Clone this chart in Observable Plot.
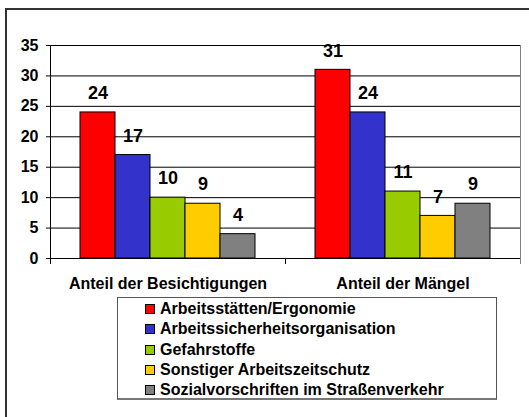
<!DOCTYPE html>
<html>
<head>
<meta charset="utf-8">
<script src="https://cdn.jsdelivr.net/npm/d3@7"></script>
<script src="https://cdn.jsdelivr.net/npm/@observablehq/plot@0.6"></script>
<style>
  html, body { margin: 0; padding: 0; background: #fff; overflow: hidden; width: 529px; height: 417px; }
  #outer { position: absolute; left: 5px; top: 8px; width: 700px; height: 600px; border-left: 2px solid #333; border-top: 2px solid #333; }
  #chart { position: absolute; left: 0; top: 0; }
  #legend { position: absolute; left: 117px; top: 297px; width: 380px; height: 103px; border: 1px solid #555; border-bottom: 2px solid #777; background: #fff;
    font-family: "Liberation Sans", Arial, sans-serif; font-weight: bold; font-size: 16px; color: #000; box-sizing: border-box; padding-top: 1px; }
  .row { display: flex; align-items: center; height: 20.3px; padding-left: 27px; white-space: nowrap; }
  .sw { width: 8px; height: 8px; border: 1px solid #000; margin-right: 5px; flex: none; }
</style>
</head>
<body>
<div id="outer"></div>
<div id="chart"></div>
<div id="legend"></div>
<script>
const categories = ["Anteil der Besichtigungen", "Anteil der Mängel"];
const series = ["Arbeitsstätten/Ergonomie", "Arbeitssicherheitsorganisation", "Gefahrstoffe", "Sonstiger Arbeitszeitschutz", "Sozialvorschriften im Straßenverkehr"];
const besichtigungen = [24, 17, 10, 9, 4];
const maengel = [31, 24, 11, 7, 9];
const colors = ["#FF0000", "#3333CC", "#99CC00", "#FFCC00", "#808080"];
const yTicks = [0, 5, 10, 15, 20, 25, 30, 35];

const data = [];
series.forEach((s, i) => {
  data.push({category: categories[0], series: s, value: besichtigungen[i]});
  data.push({category: categories[1], series: s, value: maengel[i]});
});

const W = 529, H = 292, mT = 45, mB = 34;
const plotH = H - mT - mB;

const chart = Plot.plot({
  width: W, height: H,
  marginLeft: 50, marginRight: 9, marginTop: mT, marginBottom: mB,
  style: {fontFamily: "'Liberation Sans', Arial, sans-serif", fontSize: "16px", fontWeight: "bold", color: "#000", background: "transparent"},
  fx: {domain: categories, padding: 0, label: null, axis: "bottom", tickSize: 0, tickPadding: 19},
  x: {domain: series, axis: null, paddingInner: 0, paddingOuter: 0.764},
  y: {domain: [0, 35], ticks: yTicks, tickSize: 4, tickPadding: 8, label: null, line: true},
  color: {domain: series, range: colors},
  marks: [
    Plot.ruleY(yTicks, {stroke: "#000", strokeWidth: 1}),
    Plot.frame({anchor: "right", stroke: "#808080", facetAnchor: "right", insetBottom: -5}),
    Plot.frame({anchor: "left", stroke: "#000", insetTop: plotH, insetBottom: -5}),
    Plot.barY(data, {fx: "category", x: "series", y: "value", fill: "series", stroke: "#000", strokeWidth: 1}),
    Plot.text(data, {fx: "category", x: "series", y: "value", text: d => String(d.value), dy: -19, fontSize: 18, fontWeight: "bold", fill: "#000"})
  ]
});
document.getElementById("chart").appendChild(chart);

const legend = document.getElementById("legend");
series.forEach((s, i) => {
  const row = document.createElement("div");
  row.className = "row";
  const sw = document.createElement("span");
  sw.className = "sw";
  sw.style.background = colors[i];
  const t = document.createElement("span");
  t.textContent = s;
  row.appendChild(sw);
  row.appendChild(t);
  legend.appendChild(row);
});
</script>
</body>
</html>
